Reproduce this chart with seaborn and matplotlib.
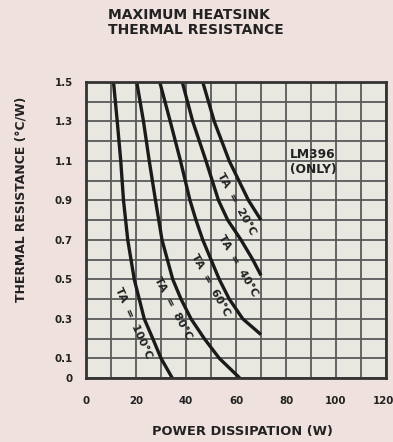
import matplotlib
matplotlib.use("Agg")
import matplotlib.pyplot as plt
import matplotlib.transforms as mtransforms
import seaborn as sns
import pandas as pd

# ---- data ----
ambient_labels = ["100", "80", "60", "40", "20"]

w_100 = [11.0, 12.5, 13.9, 15.0, 16.7, 19.3, 21.3, 23.3, 26.7, 30.0, 34.5]
r_100 = [1.5, 1.3, 1.1, 0.9, 0.7, 0.5, 0.4, 0.3, 0.2, 0.1, 0.0]

w_80 = [20.3, 23.0, 25.3, 27.8, 30.4, 34.7, 38.0, 42.0, 47.3, 53.3, 61.5]
r_80 = [1.5, 1.3, 1.1, 0.9, 0.7, 0.5, 0.4, 0.3, 0.2, 0.1, 0.0]

w_60 = [29.5, 33.7, 37.8, 41.6, 44.0, 46.7, 50.0, 53.3, 57.3, 62.7, 70.0]
r_60 = [1.5, 1.3, 1.1, 0.9, 0.8, 0.7, 0.6, 0.5, 0.4, 0.3, 0.22]

w_40 = [38.5, 42.7, 48.0, 53.0, 56.7, 62.0, 66.7, 70.0]
r_40 = [1.5, 1.3, 1.1, 0.9, 0.8, 0.7, 0.6, 0.52]

w_20 = [46.7, 51.3, 57.3, 65.0, 70.0]
r_20 = [1.5, 1.3, 1.1, 0.9, 0.8]

x_ticks = [0, 20, 40, 60, 80, 100, 120]
y_tick_vals = [0, 0.1, 0.3, 0.5, 0.7, 0.9, 1.1, 1.3, 1.5]
y_tick_labels = ["0", "0.1", "0.3", "0.5", "0.7", "0.9", "1.1", "1.3", "1.5"]

# label placement (data coords) and angles
lab_w = [18.8, 34.8, 49.6, 60.8, 60.0]
lab_r = [0.28, 0.355, 0.47, 0.57, 0.88]
lab_rot = [-66, -62, -61, -60, -61]

series = {"100": (w_100, r_100), "80": (w_80, r_80), "60": (w_60, r_60),
          "40": (w_40, r_40), "20": (w_20, r_20)}
rows = []
for k in ambient_labels:
    ws, rs = series[k]
    for w, r in zip(ws, rs):
        rows.append({"power": w, "res": r, "ta": k})
df = pd.DataFrame(rows)

sns.set_theme(style="white")
plt.rcParams["font.family"] = ["DejaVu Sans"]
plt.rcParams["font.weight"] = "bold"

fig = plt.figure(figsize=(3.93, 4.42), dpi=100, facecolor="#efe1de")
ax = fig.add_axes([86 / 393, 1 - 378 / 442, 300 / 393, 296 / 442])
ax.set_facecolor("#e8e8e1")

sns.lineplot(data=df, x="power", y="res", hue="ta", hue_order=ambient_labels,
             palette=["#1a1a1a"] * 5, estimator=None, sort=False,
             linewidth=2.4, legend=False, ax=ax)
for ln in ax.get_lines():
    ln.set_solid_joinstyle("round")
    ln.set_solid_capstyle("butt")

ax.set_xlim(0, 120)
ax.set_ylim(0, 1.5)

# grid every 10 W and 0.1 C/W
xt = list(range(0, 121, 10))
ax.set_xticks(xt)
ax.set_xticklabels([str(v) if v in x_ticks else "" for v in xt])
yt = [i / 10 for i in range(16)]
ax.set_yticks(yt)
lab_map = dict(zip([round(v, 1) for v in y_tick_vals], y_tick_labels))
ax.set_yticklabels([lab_map.get(round(v, 1), "") for v in yt])
ax.grid(True, color="#5a5a5a", linewidth=1.3)
ax.set_axisbelow(True)
ax.tick_params(axis="x", length=0, pad=13, labelsize=7.4, colors="#222222")
ax.tick_params(axis="y", length=0, pad=9.5, labelsize=7.4, colors="#222222")
for lbl in ax.get_xticklabels() + ax.get_yticklabels():
    lbl.set_fontweight("bold")
# nudge the last x label so it stays inside the image
last = ax.get_xticklabels()[-1]
last.set_transform(last.get_transform() +
                   mtransforms.ScaledTranslation(-3 / 100, 0, fig.dpi_scale_trans))

for s in ax.spines.values():
    s.set_visible(True)
    s.set_color("#333333")
    s.set_linewidth(2.0)

ax.set_xlabel("POWER DISSIPATION (W)", fontsize=9.4, fontweight="bold", color="#222222")
ax.set_ylabel("THERMAL RESISTANCE (°C/W)", fontsize=8.9, fontweight="bold", color="#222222")
ax.xaxis.set_label_coords(0.52, -0.158)
ax.yaxis.set_label_coords(-0.195, 0.605)

for k, w, r, rot in zip(ambient_labels, lab_w, lab_r, lab_rot):
    ax.text(w, r, f"TA  =  {k}°C", rotation=rot, ha="center", va="center",
            fontsize=8, fontweight="bold", color="#222222", rotation_mode="anchor")

ax.text(81.6, 1.095, "LM396\n(ONLY)", ha="left", va="center", fontsize=8.8,
        fontweight="bold", color="#222222", linespacing=1.15)

fig.text(108 / 393, 1 - 8 / 442, "MAXIMUM HEATSINK\nTHERMAL RESISTANCE", ha="left",
         va="top", fontsize=10, fontweight="bold", color="#222222", linespacing=1.1)

fig.savefig("out.png", dpi=100, facecolor=fig.get_facecolor())
